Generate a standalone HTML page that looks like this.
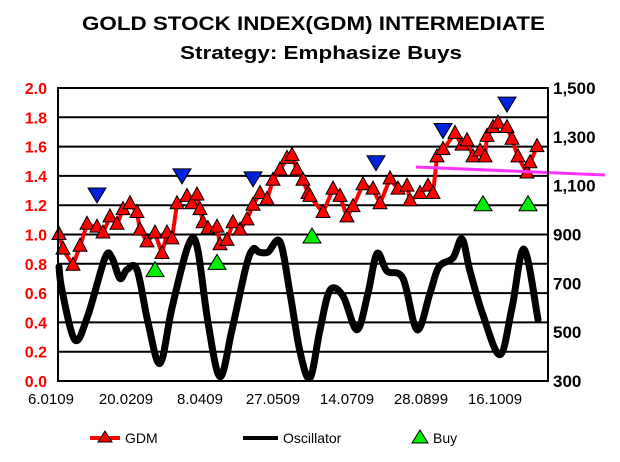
<!DOCTYPE html>
<html><head><meta charset="utf-8"><style>
body{margin:0;background:#fff;}
svg{display:block;font-family:"Liberation Sans",Arial,sans-serif;}
</style></head><body>
<svg id="c" width="620" height="462" viewBox="0 0 620 462">
<text x="82" y="30" textLength="463" lengthAdjust="spacingAndGlyphs" font-size="19" font-weight="bold">GOLD STOCK INDEX(GDM)  INTERMEDIATE</text>
<text x="180" y="59" textLength="282" lengthAdjust="spacingAndGlyphs" font-size="18" font-weight="bold">Strategy: Emphasize Buys</text>
<g id="grid"></g>
<g id="ly"></g>
<g id="ry"></g>
<g id="xa"></g>
<g id="osc"></g>
<g id="gdm"></g>
<g id="sig"></g>
<line x1="416" y1="167" x2="605" y2="175" stroke="#ff33ff" stroke-width="3"/>
<rect x="58" y="88" width="490" height="293" fill="none" stroke="#000" stroke-width="2"/>
<g>
<g>
<line x1="90" y1="438" x2="120" y2="438" stroke="#f00" stroke-width="4"/>
<polygon points="105,431 98,442 112,442" fill="#f00" stroke="#000" stroke-width="1"/>
<text x="125" y="443" font-size="14">GDM</text></g>
<g>
<line x1="243" y1="438" x2="278" y2="438" stroke="#000" stroke-width="4"/>
<text x="283" y="443" font-size="14">Oscillator</text></g>
<g>
<polygon points="420,430 412,443 428,443" fill="#00ee00" stroke="#000" stroke-width="1"/>
<text x="433" y="443" font-size="14">Buy</text></g>
</g>
</svg>
<script>
const gdmDays=[0.5,2.5,7.5,11,14.5,19.5,22.5,26,29.5,32.5,36,39.5,41,44.5,48.5,52,54.5,57,59.5,64.5,67,69.5,71,72.5,75,79.5,81,84.5,87.5,91,94.5,97.5,101,104.5,107.5,111,114.5,117,119.5,122.5,125,126,132.5,137.5,141,144.5,147.5,152.5,157.5,161,166,170,174.5,176,181,185,187.5,189.5,192.5,198.5,202,204.5,207.5,211,213.5,214.5,217.5,220,224.5,227,230,234.5,236,239.5];
const gdmPrice=[900,840,774,852,942,930,906,972,942,1002,1026,990,918,870,906,822,906,882,1026,1056,1026,1062,1002,948,924,930,858,876,948,918,960,1020,1068,1044,1122,1164,1212,1224,1164,1122,1068,1056,990,1086,1056,972,1014,1104,1086,1026,1128,1086,1098,1038,1068,1098,1068,1218,1248,1314,1266,1284,1218,1242,1218,1302,1338,1356,1338,1290,1218,1152,1194,1260,1308];
const oscDays=[0.5,2,8.5,15,23.5,27,31,34.5,39.5,45,51,57,65,69.5,75,81,87,94,97.5,100.5,105,111,116,121,126,131,136,142.5,149.5,155,159.5,164.5,172.5,179.5,186,190.5,197.5,202,206,212.5,221,227,233,240];
const oscVal=[0.78,0.62,0.28,0.45,0.84,0.84,0.70,0.76,0.76,0.40,0.12,0.50,0.92,0.92,0.40,0.03,0.35,0.78,0.90,0.88,0.88,0.95,0.60,0.20,0.02,0.35,0.62,0.58,0.35,0.60,0.87,0.75,0.70,0.35,0.60,0.78,0.84,0.97,0.75,0.45,0.18,0.50,0.90,0.42];
const sellDays=[19.5,62,97.5,159,192.5,224.5];
const sellVal=[1.27,1.40,1.38,1.49,1.71,1.89];
const buyDays=[48.5,79.5,127,212.5,235];
const buyVal=[0.76,0.81,0.99,1.21,1.21];
const leftTicks=["0.0","0.2","0.4","0.6","0.8","1.0","1.2","1.4","1.6","1.8","2.0"];
const rightTicks=["300","500","700","900","1,100","1,300","1,500"];
const xLabels=["6.0109","20.0209","8.0409","27.0509","14.0709","28.0899","16.1009"];
const xLabelDays=[-3.5,34,71,107.5,144.5,181.5,218.5];

const NS="http://www.w3.org/2000/svg";
const X0=58,X1=548,Y0=381,Y1=88;
const xS=d=>X0+d*2;
const yL=v=>Y0-(v/2)*(Y0-Y1);
const yR=p=>yL((p-300)/600);
function mk(tag,attrs,parent){const e=document.createElementNS(NS,tag);for(const k in attrs)e.setAttribute(k,attrs[k]);parent.appendChild(e);return e;}
function smooth(pts){let d='M'+pts[0][0]+','+pts[0][1];
 for(let i=0;i<pts.length-1;i++){const p0=pts[i-1]||pts[i],p1=pts[i],p2=pts[i+1],p3=pts[i+2]||p2;
  const c1=[p1[0]+(p2[0]-p0[0])/6,p1[1]+(p2[1]-p0[1])/6],c2=[p2[0]-(p3[0]-p1[0])/6,p2[1]-(p3[1]-p1[1])/6];
  d+=`C${c1[0]},${c1[1]} ${c2[0]},${c2[1]} ${p2[0]},${p2[1]}`;}
 return d;}
const grid=document.getElementById('grid'),ly=document.getElementById('ly'),ry=document.getElementById('ry'),xa=document.getElementById('xa');
leftTicks.forEach((t,i)=>{const v=parseFloat(t);const y=yL(v);
 const l=mk('line',{x1:X0,x2:X1,y1:y,y2:y,stroke:'#000','stroke-width':2},grid);
 
 
 const tx=mk('text',{x:47,y:y+6,'text-anchor':'end','font-size':16,'font-weight':'bold',fill:'#f00'},ly);tx.textContent=t;
 
 
});
rightTicks.forEach(t=>{const p=parseFloat(t.replace(',',''));const y=yR(p);
 const tx=mk('text',{x:553,y:y+6,'font-size':17,'font-weight':'bold'},ry);tx.textContent=t;
 
 
});
xLabels.forEach((t,i)=>{const tx=mk('text',{x:xS(xLabelDays[i]),y:404,'text-anchor':'middle','font-size':15},xa);tx.textContent=t;
 
 
});
const osc=document.getElementById('osc');
const op=mk('path',{d:smooth(oscDays.map((d,i)=>[xS(d),yL(oscVal[i])])),fill:'none',stroke:'#000','stroke-width':7,'stroke-linejoin':'round','stroke-linecap':'round'},osc);


const g=document.getElementById('gdm');
const gp=mk('path',{d:gdmDays.map((d,i)=>(i?'L':'M')+xS(d)+','+yR(gdmPrice[i])).join(''),fill:'none',stroke:'#f00','stroke-width':4},g);


gdmDays.forEach((d,i)=>{const x=xS(d),y=yR(gdmPrice[i]);
 const t=mk('polygon',{points:`${x},${y-8} ${x-7},${y+5} ${x+7},${y+5}`,fill:'#f00',stroke:'#000','stroke-width':1},g);
 
 
});
const s=document.getElementById('sig');
sellDays.forEach((d,i)=>{const x=xS(d),y=yL(sellVal[i]);
 const t=mk('polygon',{points:`${x-9},${y-7} ${x+9},${y-7} ${x},${y+8}`,fill:'#0022dd',stroke:'#000','stroke-width':1},s);
 
 
});
buyDays.forEach((d,i)=>{const x=xS(d),y=yL(buyVal[i]);
 const t=mk('polygon',{points:`${x},${y-8} ${x-9},${y+7} ${x+9},${y+7}`,fill:'#00ee00',stroke:'#000','stroke-width':1},s);
 
 
});
</script>
</body></html>
